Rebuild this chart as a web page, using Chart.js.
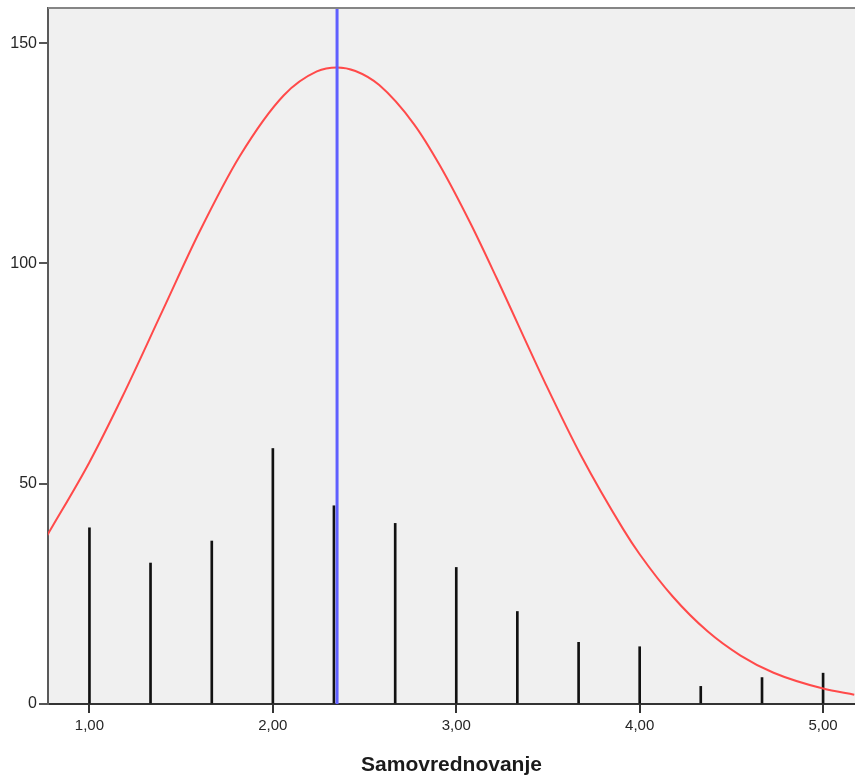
<!DOCTYPE html>
<html>
<head>
<meta charset="utf-8">
<script src="https://cdn.jsdelivr.net/npm/chart.js@4/dist/chart.umd.min.js"></script>
<style>
  html, body { margin: 0; padding: 0; background: #ffffff; }
  #wrap { width: 855px; height: 781px; }
</style>
</head>
<body>
<div id="wrap"><canvas id="c" width="855" height="781"></canvas></div>
<script>
// ---- data ----
const binCenters = [1.00, 1.333, 1.667, 2.00, 2.333, 2.667, 3.00, 3.333, 3.667, 4.00, 4.333, 4.667, 5.00];
const binCounts  = [40, 32, 37, 58, 45, 41, 31, 21, 14, 13, 4, 6, 7];

const curveX = [0.77, 1.00, 1.18, 1.40, 1.60, 1.82, 2.06, 2.24, 2.35, 2.45, 2.58, 2.77, 2.91, 3.08, 3.22, 3.49, 3.68, 3.91, 4.00, 4.18, 4.37, 4.55, 4.73, 5.00, 5.17];
const curveY = [38.3, 54.9, 69.8, 89.4, 107.2, 124.4, 138.2, 143.6, 144.5, 143.7, 140.5, 131.6, 122.3, 108.9, 96.7, 72.4, 56.4, 39.7, 34.0, 24.4, 16.5, 11.0, 7.1, 3.5, 2.1];

const meanValue = 2.35;

const xTickValues = [1, 2, 3, 4, 5];
const xTickLabels = ['1,00', '2,00', '3,00', '4,00', '5,00'];
const yTickValues = [0, 50, 100, 150];
const yTickLabels = ['0', '50', '100', '150'];

const xTitle = 'Samovrednovanje';
const xMin = 0.774, xMax = 5.174, yMin = 0, yMax = 158;

// ---- build chart ----
const barData = binCenters.map((x, i) => ({ x: x, y: binCounts[i] }));
const curveData = curveX.map((x, i) => ({ x: x, y: curveY[i] }));
const meanData = [{ x: meanValue, y: yMin }, { x: meanValue, y: yMax }];

const plotBg = {
  id: 'plotBg',
  beforeDraw(chart) {
    const { ctx, chartArea: a } = chart;
    ctx.save();
    ctx.fillStyle = '#f0f0f0';
    ctx.fillRect(a.left, a.top, a.right - a.left, a.bottom - a.top);
    ctx.restore();
  },
  afterDraw(chart) {
    const { ctx, chartArea: a } = chart;
    ctx.save();
    ctx.strokeStyle = '#858585';
    ctx.lineWidth = 2;
    ctx.beginPath();
    ctx.moveTo(a.left, a.top);
    ctx.lineTo(a.right, a.top);
    ctx.stroke();
    ctx.restore();
  }
};

new Chart(document.getElementById('c'), {
  type: 'bar',
  data: {
    datasets: [
      {
        type: 'line',
        data: meanData,
        borderColor: '#5f5fff',
        borderWidth: 3,
        pointRadius: 0,
        fill: false
      },
      {
        type: 'line',
        data: curveData,
        borderColor: '#ff4a4a',
        borderWidth: 2,
        pointRadius: 0,
        fill: false,
        cubicInterpolationMode: 'monotone'
      },
      {
        type: 'bar',
        data: barData,
        backgroundColor: '#111111',
        borderWidth: 0,
        barThickness: 2
      }
    ]
  },
  options: {
    responsive: false,
    animation: false,
    devicePixelRatio: 1,
    layout: { padding: { top: 8, right: 0, left: 0, bottom: 0 } },
    plugins: { legend: { display: false }, tooltip: { enabled: false } },
    scales: {
      x: {
        type: 'linear',
        min: xMin,
        max: xMax,
        offset: false,
        afterBuildTicks(scale) {
          scale.ticks = xTickValues.map(v => ({ value: v }));
        },
        afterFit(scale) {
          scale.height = 77;
          scale.paddingLeft = 0;
          scale.paddingRight = 0;
        },
        ticks: {
          callback(value) {
            const i = xTickValues.indexOf(value);
            return i >= 0 ? xTickLabels[i] : '';
          },
          color: '#262626',
          font: { family: '"Liberation Sans", Arial, sans-serif', size: 15 },
          padding: 4,
          maxRotation: 0,
          autoSkip: false
        },
        grid: {
          display: true,
          drawOnChartArea: false,
          drawTicks: true,
          tickLength: 9,
          color: '#333333',
          lineWidth: 2,
          offset: false
        },
        border: { display: true, color: '#333333', width: 2 },
        title: {
          display: true,
          text: xTitle,
          color: '#1a1a1a',
          font: { family: '"Liberation Sans", Arial, sans-serif', size: 21, weight: 'bold' },
          padding: { top: 0, bottom: 3 }
        }
      },
      y: {
        type: 'linear',
        min: yMin,
        max: yMax,
        afterBuildTicks(scale) {
          scale.ticks = yTickValues.map(v => ({ value: v }));
        },
        afterFit(scale) {
          scale.width = 48;
          scale.paddingTop = 0;
          scale.paddingBottom = 0;
        },
        ticks: {
          callback(value) {
            const i = yTickValues.indexOf(value);
            return i >= 0 ? yTickLabels[i] : '';
          },
          color: '#262626',
          font: { family: '"Liberation Sans", Arial, sans-serif', size: 16 },
          padding: 2,
          autoSkip: false
        },
        grid: {
          display: true,
          drawOnChartArea: false,
          drawTicks: true,
          tickLength: 9,
          color: '#555555',
          lineWidth: 2
        },
        border: { display: true, color: '#5a5a5a', width: 2 }
      }
    }
  },
  plugins: [plotBg]
});
</script>
</body>
</html>
